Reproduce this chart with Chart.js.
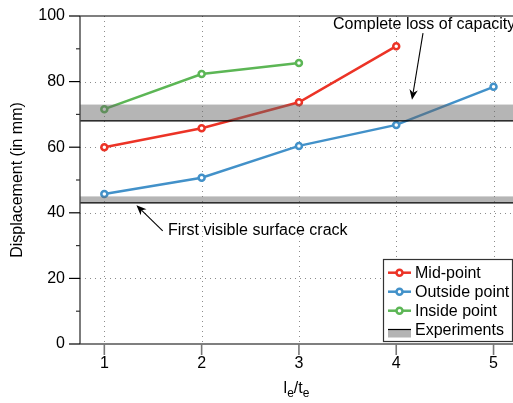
<!DOCTYPE html>
<html><head><meta charset="utf-8">
<script src="https://cdn.jsdelivr.net/npm/chart.js@4"></script>
<style>html,body{margin:0;padding:0;background:#fff}#wrap{width:513px;height:403px;position:relative}</style>
</head><body><div id="wrap"><canvas id="c" width="513" height="403"></canvas></div>
<script>
// ---- data ----
const ratios = [1, 2, 3, 4, 5];
const midPoint = [60.0, 65.8, 73.7, 90.8];
const outsidePoint = [45.7, 50.7, 60.4, 66.8, 78.4];
const insidePoint = [71.6, 82.3, 85.7];
const expLower = [43, 68];
const expUpper = [45, 73];
const yTicks = [0, 20, 40, 60, 80, 100];
const yMinorTicks = [10, 30, 50, 70, 90];
const seriesNames = ['Mid-point', 'Outside point', 'Inside point'];
const expName = 'Experiments';
const notes = ['Complete loss of capacity', 'First visible surface crack'];
const yTitle = 'Displacement (in mm)';

const colors = ['#ec3326', '#4291c9', '#5cb655'];
const FONT = '"Liberation Sans", Arial, Helvetica, sans-serif';

function pts(vals){ return vals.map((v,i)=>({x: ratios[i], y: v})); }

function arrow(ctx, x1, y1, x2, y2){
  ctx.beginPath(); ctx.moveTo(x1,y1);
  const ang = Math.atan2(y2-y1, x2-x1);
  const L = 10, W = 4.2;
  const bx = x2 - Math.cos(ang)*L*0.7, by = y2 - Math.sin(ang)*L*0.7;
  ctx.lineTo(bx, by); ctx.stroke();
  const cx = x2 - Math.cos(ang)*L, cy = y2 - Math.sin(ang)*L;
  const nx = -Math.sin(ang), ny = Math.cos(ang);
  ctx.beginPath();
  ctx.moveTo(x2,y2);
  ctx.lineTo(cx + nx*W, cy + ny*W);
  ctx.lineTo(bx, by);
  ctx.lineTo(cx - nx*W, cy - ny*W);
  ctx.closePath(); ctx.fill();
}

const deco = {
  id: 'deco',
  beforeDatasetsDraw(chart){
    const {ctx, chartArea:a, scales:{x, y}} = chart;
    ctx.save();
    ctx.strokeStyle = '#8c8c8c'; ctx.lineWidth = 1; ctx.setLineDash([1, 4]);
    ratios.forEach(v => {
      const X = Math.round(x.getPixelForValue(v)) + 0.5;
      ctx.beginPath(); ctx.moveTo(X, a.top); ctx.lineTo(X, a.bottom); ctx.stroke();
    });
    yTicks.slice(1, -1).forEach(v => {
      const Y = Math.round(y.getPixelForValue(v)) + 0.5;
      ctx.beginPath(); ctx.moveTo(a.left, Y); ctx.lineTo(a.right, Y); ctx.stroke();
    });
    ctx.restore();
  },
  afterDatasetsDraw(chart){
    const {ctx, chartArea:a, scales:{x, y}} = chart;
    ctx.save();
    // experiment bands
    expLower.forEach((lo, i) => {
      const yl = y.getPixelForValue(lo), yh = y.getPixelForValue(expUpper[i]);
      ctx.fillStyle = 'rgba(100,100,100,0.48)';
      ctx.fillRect(a.left, yh, a.right - a.left, yl - yh);
      ctx.strokeStyle = '#000'; ctx.lineWidth = 1.2;
      ctx.beginPath(); ctx.moveTo(a.left, yl); ctx.lineTo(a.right, yl); ctx.stroke();
    });
    // spines
    ctx.strokeStyle = '#000'; ctx.lineWidth = 1.2;
    const yTop = y.getPixelForValue(yTicks[yTicks.length-1]), yBot = y.getPixelForValue(yTicks[0]);
    ctx.beginPath();
    ctx.moveTo(a.left, yTop); ctx.lineTo(a.right, yTop);
    ctx.moveTo(a.left, yBot); ctx.lineTo(a.right, yBot);
    ctx.stroke();
    ctx.strokeStyle = '#444'; ctx.lineWidth = 1.4;
    ctx.beginPath(); ctx.moveTo(a.left, a.top); ctx.lineTo(a.left, a.bottom); ctx.stroke();
    // y ticks
    ctx.strokeStyle = '#000'; ctx.lineWidth = 1.2;
    yTicks.forEach(v => { const Y = y.getPixelForValue(v);
      ctx.beginPath(); ctx.moveTo(a.left - 11, Y); ctx.lineTo(a.left, Y); ctx.stroke(); });
    ctx.strokeStyle = '#333';
    yMinorTicks.forEach(v => { const Y = y.getPixelForValue(v);
      ctx.beginPath(); ctx.moveTo(a.left - 4, Y); ctx.lineTo(a.left, Y); ctx.stroke(); });
    // x ticks
    ctx.strokeStyle = '#777'; ctx.lineWidth = 1.6;
    ratios.forEach(v => { const X = x.getPixelForValue(v);
      ctx.beginPath(); ctx.moveTo(X, a.bottom); ctx.lineTo(X, a.bottom + 11); ctx.stroke(); });
    // annotations
    ctx.fillStyle = '#000'; ctx.strokeStyle = '#000'; ctx.lineWidth = 1.1;
    ctx.font = '16px ' + FONT; ctx.textBaseline = 'alphabetic'; ctx.textAlign = 'left';
    ctx.fillText(notes[0], x.getPixelForValue(3.35), y.getPixelForValue(95.9));
    arrow(ctx, x.getPixelForValue(4.275), y.getPixelForValue(94.8), x.getPixelForValue(4.162), y.getPixelForValue(74.5));
    ctx.fillText(notes[1], x.getPixelForValue(1.654), y.getPixelForValue(33.2));
    arrow(ctx, x.getPixelForValue(1.60), y.getPixelForValue(34.5), x.getPixelForValue(1.33), y.getPixelForValue(42.3));
    // legend
    const lx = 383.5, ly = 259.5, lw = 129, lh = 82;
    ctx.fillStyle = '#fff'; ctx.fillRect(lx, ly, lw, lh);
    ctx.strokeStyle = '#333'; ctx.lineWidth = 1.2; ctx.strokeRect(lx, ly, lw, lh);
    ctx.textBaseline = 'middle';
    const rows = [272.7, 291.7, 310.7, 330];
    chart.data.datasets.forEach((ds, i) => {
      const ry = rows[i];
      ctx.strokeStyle = ds.borderColor; ctx.lineWidth = 2.5;
      ctx.beginPath(); ctx.moveTo(388, ry); ctx.lineTo(411, ry); ctx.stroke();
      ctx.fillStyle = '#fff'; ctx.beginPath(); ctx.arc(399.5, ry, 3, 0, Math.PI*2); ctx.fill(); ctx.stroke();
      ctx.fillStyle = '#000'; ctx.fillText(ds.label, 415, ry + 1);
    });
    ctx.fillStyle = '#b4b4b4'; ctx.fillRect(388, 329.5, 23, 8);
    ctx.strokeStyle = '#000'; ctx.lineWidth = 1.2;
    ctx.beginPath(); ctx.moveTo(388, 329.5); ctx.lineTo(411, 329.5); ctx.stroke();
    ctx.fillStyle = '#000'; ctx.fillText(expName, 415, rows[3] + 1);
    // x title l_e / t_e
    ctx.textBaseline = 'alphabetic';
    const parts = [['l',16,0],['e',12,4],['/',16,0],['t',16,0],['e',12,4]];
    let tw = 0; parts.forEach(p => { ctx.font = p[1] + 'px ' + FONT; tw += ctx.measureText(p[0]).width; });
    let cx = (a.left + a.right) / 2 - tw / 2; const base = 393;
    parts.forEach(p => { ctx.font = p[1] + 'px ' + FONT; ctx.fillText(p[0], cx, base + p[2]); cx += ctx.measureText(p[0]).width; });
    ctx.restore();
  }
};

const data = {
  datasets: [midPoint, outsidePoint, insidePoint].map((vals, i) => ({
    label: seriesNames[i], data: pts(vals), borderColor: colors[i], backgroundColor: '#fff',
    borderWidth: 2.5, pointRadius: 3, pointBorderWidth: 2.5, pointBackgroundColor: '#fff',
    pointBorderColor: colors[i], tension: 0, fill: false
  }))
};

new Chart(document.getElementById('c'), {
  type: 'line', data,
  options: {
    responsive: false, animation: false, devicePixelRatio: 1,
    layout: { autoPadding: false, padding: { top: 16, right: 0, left: 0, bottom: 0 } },
    plugins: { legend: { display: false }, tooltip: { enabled: false } },
    scales: {
      x: { type: 'linear', min: 0.75, max: 5.2,
        afterBuildTicks: s => { s.ticks = ratios.map(v => ({ value: v })); },
        afterFit: s => { s.height = 59; s.paddingLeft = 0; s.paddingRight = 0; },
        grid: { display: false, drawTicks: false }, border: { display: false },
        ticks: { font: { size: 16, family: FONT }, color: '#000', padding: 10, maxRotation: 0, autoSkip: false } },
      y: { type: 'linear', min: 0, max: 100,
        afterBuildTicks: s => { s.ticks = yTicks.map(v => ({ value: v })); },
        afterFit: s => { s.width = 80; s.paddingTop = 0; s.paddingBottom = 0; },
        grid: { display: false, drawTicks: false }, border: { display: false },
        ticks: { font: { size: 16, family: FONT }, color: '#000', padding: 15 },
        title: { display: true, text: yTitle, font: { size: 16, family: FONT }, color: '#000', padding: { top: 8, bottom: 0 } } }
    }
  },
  plugins: [deco]
});
</script></body></html>
